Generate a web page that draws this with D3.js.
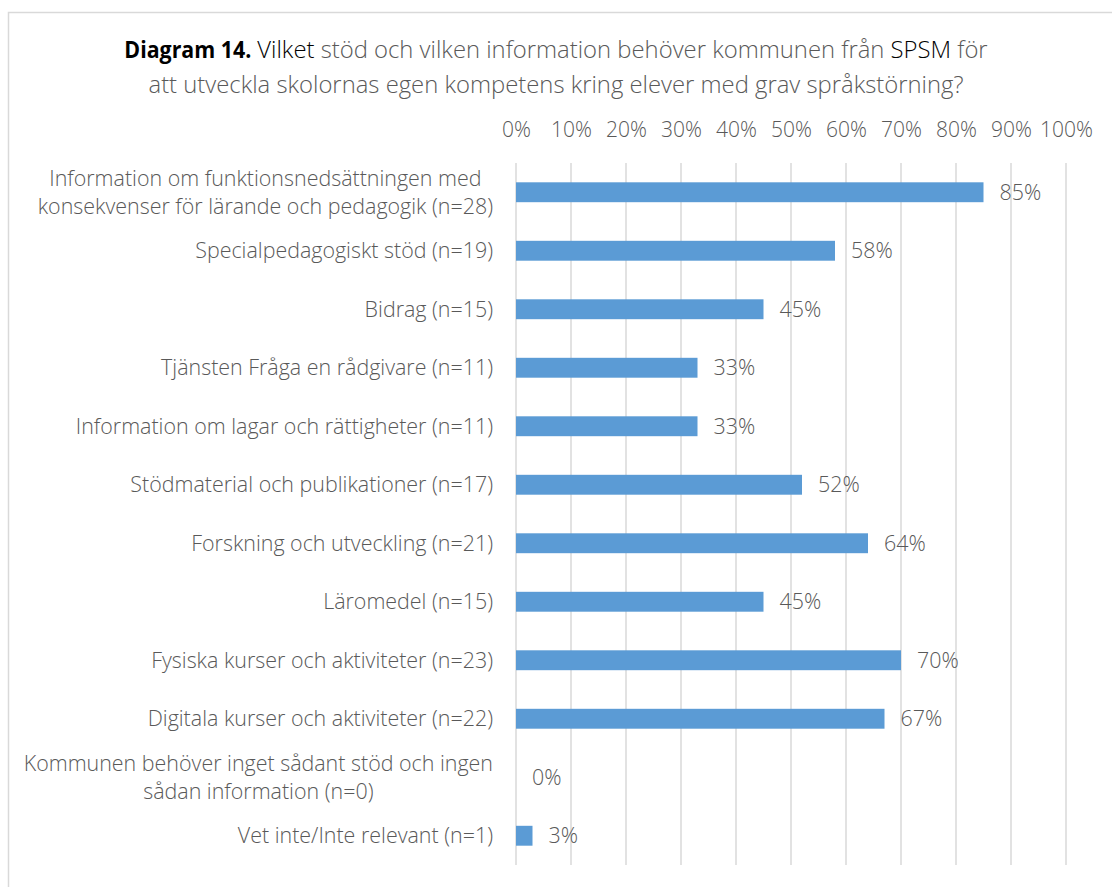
<!DOCTYPE html>
<html>
<head>
<meta charset="utf-8">
<script src="https://cdn.jsdelivr.net/npm/d3@7"></script>
<style>
  body { margin: 0; background: #fff; }
  svg { display: block; }
  text { font-family: "Open Sans", "Segoe UI", sans-serif; }
</style>
</head>
<body>
<svg id="chart" width="1112" height="887"></svg>
<script>
// ---- data ----
const categories = [
  "Information om funktionsnedsättningen med\nkonsekvenser för lärande och pedagogik (n=28)",
  "Specialpedagogiskt stöd (n=19)",
  "Bidrag (n=15)",
  "Tjänsten Fråga en rådgivare (n=11)",
  "Information om lagar och rättigheter (n=11)",
  "Stödmaterial och publikationer (n=17)",
  "Forskning och utveckling (n=21)",
  "Läromedel (n=15)",
  "Fysiska kurser och aktiviteter (n=23)",
  "Digitala kurser och aktiviteter (n=22)",
  "Kommunen behöver inget sådant stöd och ingen\nsådan information (n=0)",
  "Vet inte/Inte relevant (n=1)"
];
const values = [85, 58, 45, 33, 33, 52, 64, 45, 70, 67, 0, 3];
const tickValues = [0, 10, 20, 30, 40, 50, 60, 70, 80, 90, 100];
const titleBold = "Diagram 14.";
const titleLine1 = [
  {text: "Vilket", kind: "dark"},
  {text: " stöd och vilken information behöver kommunen från", kind: "gray"},
  {text: " SPSM", kind: "dark"},
  {text: " för", kind: "gray"}
];
const titleLine2 = "att utveckla skolornas egen kompetens kring elever med grav språkstörning?";

// ---- layout ----
const svg = d3.select("#chart");
const gray = "#595959";
const x = d3.scaleLinear().domain([0, 100]).range([516, 1066]);
const y = d3.scaleBand().domain(categories).range([163, 865]).paddingInner(0.66).paddingOuter(0.33);
const labelRight = 493;

// helper: fit font size so a string has a target width
function fitSize(str, target, weight) {
  const t = svg.append("text").attr("font-size", 100).attr("font-weight", weight).text(str);
  const w = t.node().getComputedTextLength();
  t.remove();
  return 100 * target / w;
}
const labelSize = fitSize("Specialpedagogiskt stöd (n=19)", 298, 300);
const tickSize = fitSize("100%", 53, 300);
const title2Size = fitSize(titleLine2, 815, 300);
const boldW = 127;
const gap = 6;

// border
svg.append("rect")
  .attr("x", 8.5).attr("y", 12.5).attr("width", 1200).attr("height", 1000)
  .attr("fill", "#fff").attr("stroke", "#d9d9d9").attr("stroke-width", 1.5);

// title line 1
const tRest = svg.append("text").attr("y", 58).attr("font-size", title2Size).attr("font-weight", 300);
tRest.selectAll("tspan").data(titleLine1).join("tspan")
  .attr("fill", d => d.kind === "gray" ? gray : "#000")
  .text(d => d.text);
const restW = tRest.node().getComputedTextLength();
const startX = 556 - (boldW + gap + restW) / 2;
tRest.attr("x", startX + boldW + gap);
const bold = svg.append("text").attr("x", 0).attr("y", 0)
  .attr("font-size", title2Size).attr("font-weight", 700).attr("fill", "#000")
  .text(titleBold);
const bw = bold.node().getComputedTextLength();
bold.attr("transform", `translate(${startX},58) scale(${boldW / bw},1)`);

svg.append("text").attr("x", 556).attr("y", 93).attr("text-anchor", "middle")
  .attr("font-size", title2Size).attr("font-weight", 300).attr("fill", gray)
  .text(titleLine2);

// gridlines
svg.append("g").selectAll("line").data(tickValues).join("line")
  .attr("x1", d => x(d)).attr("x2", d => x(d))
  .attr("y1", 163).attr("y2", 865)
  .attr("stroke", "#d9d9d9").attr("stroke-width", 1.5);

// top axis labels
const axis = d3.axisTop(x).tickValues(tickValues).tickFormat(d => d + "%").tickSize(0).tickPadding(0);
const ag = svg.append("g").attr("transform", "translate(0,137)").call(axis);
ag.select(".domain").remove();
ag.selectAll("text").attr("font-family", null).attr("font-size", tickSize).attr("font-weight", 300)
  .attr("fill", gray).attr("dy", 0);

// bars
svg.append("g").selectAll("rect").data(values).join("rect")
  .attr("x", x(0)).attr("y", (d, i) => y(categories[i]))
  .attr("width", d => x(d) - x(0)).attr("height", y.bandwidth())
  .attr("fill", "#5b9bd5");

// value labels
svg.append("g").selectAll("text").data(values).join("text")
  .attr("x", d => x(d) + 16)
  .attr("y", (d, i) => y(categories[i]) + y.bandwidth() / 2)
  .attr("dy", "0.35em")
  .attr("font-size", labelSize).attr("font-weight", 300).attr("fill", gray)
  .text(d => d + "%");

// category labels (multi-line centered, block right-aligned)
const cg = svg.append("g");
categories.forEach(c => {
  const lines = c.split("\n");
  const cy = y(c) + y.bandwidth() / 2;
  const lh = 28;
  const txt = cg.append("text").attr("font-size", labelSize).attr("font-weight", 300)
    .attr("fill", gray).attr("text-anchor", "middle");
  const spans = lines.map((l, i) => txt.append("tspan").text(l)
    .attr("y", cy + (i - (lines.length - 1) / 2) * lh).attr("dy", "0.35em"));
  const widths = spans.map(s => s.node().getComputedTextLength());
  const maxW = d3.max(widths);
  spans.forEach(s => s.attr("x", labelRight - maxW / 2));
});
</script>
</body>
</html>
